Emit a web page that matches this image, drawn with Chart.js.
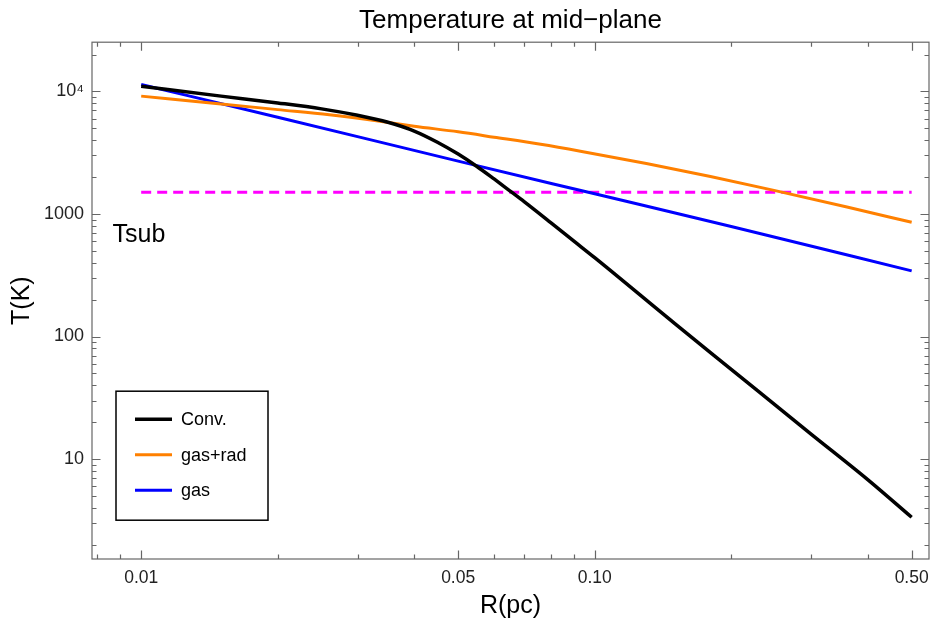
<!DOCTYPE html>
<html>
<head>
<meta charset="utf-8">
<title>Temperature at mid-plane</title>
<script src="https://cdn.jsdelivr.net/npm/chart.js@4.4.1/dist/chart.umd.min.js"></script>
<style>
  body { margin: 0; background: #fff; }
  canvas { display: block; }
</style>
</head>
<body>
<canvas id="tempChart" width="932" height="629"></canvas>
<script>
// R in pc, T in K
var rConv = [0.01, 0.015, 0.02, 0.025, 0.03, 0.035, 0.04, 0.045, 0.05, 0.055, 0.06, 0.065, 0.07, 0.08, 0.09, 0.1, 0.15, 0.2, 0.3, 0.4, 0.5];
var tConv = [11000, 9150, 8050, 7200, 6380, 5600, 4750, 3850, 3080, 2440, 1930, 1545, 1255, 850, 600, 440, 128, 54, 16, 6.8, 3.35];

var rGasRad = [0.01, 0.015, 0.02, 0.026, 0.0336, 0.04, 0.05, 0.06, 0.076, 0.093, 0.13, 0.18, 0.25, 0.36, 0.5];
var tGasRad = [9150, 7900, 7100, 6440, 5710, 5200, 4680, 4230, 3700, 3250, 2580, 2020, 1550, 1140, 855];

var rGas = [0.01, 0.02, 0.05, 0.1, 0.2, 0.5];
var tGas = [11400, 6150, 2700, 1460, 790, 343];

var rSub = [0.01, 0.5];
var tSub = [1500, 1500];

var seriesLabels = ["Conv.", "gas+rad", "gas"];

// tick marks and labels
var xTicks = [0.008, 0.009, 0.01, 0.02, 0.03, 0.04, 0.05, 0.06, 0.07, 0.08, 0.09, 0.1, 0.2, 0.3, 0.4, 0.5];
var xMajor = [0.01, 0.05, 0.1, 0.5];
var xMajorText = ["0.01", "0.05", "0.10", "0.50"];
var yTicks = [2, 3, 4, 5, 6, 7, 8, 9, 10, 20, 30, 40, 50, 60, 70, 80, 90, 100, 200, 300, 400, 500, 600, 700, 800, 900,
              1000, 2000, 3000, 4000, 5000, 6000, 7000, 8000, 9000, 10000, 20000];
var yMajor = [10, 100, 1000, 10000];
var yMajorText = ["10", "100", "1000", "10\u2074"];

var FONT = "'Liberation Sans', Arial, sans-serif";

function pts(xs, ys) {
  return xs.map(function (x, i) { return { x: x, y: ys[i] }; });
}

// inward ticks on all four sides + frame
var frameTicks = {
  id: "frameTicks",
  afterDraw: function (chart) {
    var c = chart.ctx, a = chart.chartArea;
    var xs = chart.scales.x, ys = chart.scales.y;
    c.save();
    c.strokeStyle = "#666";
    c.lineWidth = 1.2;
    c.beginPath();
    xs.ticks.forEach(function (t) {
      var px = Math.round(xs.getPixelForValue(t.value)) + 0.5;
      var len = xMajor.indexOf(t.value) >= 0 ? 8.5 : 4.5;
      c.moveTo(px, a.bottom); c.lineTo(px, a.bottom - len);
      c.moveTo(px, a.top); c.lineTo(px, a.top + len);
    });
    ys.ticks.forEach(function (t) {
      var py = Math.round(ys.getPixelForValue(t.value)) + 0.5;
      var len = yMajor.indexOf(t.value) >= 0 ? 8.5 : 4.5;
      c.moveTo(a.left, py); c.lineTo(a.left + len, py);
      c.moveTo(a.right, py); c.lineTo(a.right - len, py);
    });
    c.stroke();
    c.strokeRect(a.left, a.top, a.right - a.left, a.bottom - a.top);
    c.restore();
  }
};

// legend box inside the plot + Tsub label
var insideLegend = {
  id: "insideLegend",
  afterDatasetsDraw: function (chart) {
    var c = chart.ctx, a = chart.chartArea;
    var xs = chart.scales.x, ys = chart.scales.y;
    c.save();
    c.font = "25px " + FONT;
    c.fillStyle = "#000";
    c.textBaseline = "alphabetic";
    c.fillText("Tsub", xs.getPixelForValue(0.00865), ys.getPixelForValue(590));

    var left = a.left + 24, top = a.top + 349, w = 152, h = 129;
    c.fillStyle = "#fff";
    c.fillRect(left, top, w, h);
    c.strokeStyle = "#000";
    c.lineWidth = 1.5;
    c.strokeRect(left, top, w, h);
    c.font = "18px " + FONT;
    c.textBaseline = "middle";
    for (var i = 0; i < seriesLabels.length; i++) {
      var ds = chart.data.datasets[i];
      var y = top + 28 + i * 35.5;
      c.strokeStyle = ds.borderColor;
      c.lineWidth = ds.borderWidth;
      c.beginPath();
      c.moveTo(left + 19, y);
      c.lineTo(left + 56, y);
      c.stroke();
      c.fillStyle = "#000";
      c.fillText(ds.label, left + 65, y + 1);
    }
    c.restore();
  }
};

var ctx = document.getElementById("tempChart");
var chart = new Chart(ctx, {
  type: "scatter",
  data: {
    datasets: [
      { label: seriesLabels[0], data: pts(rConv, tConv), borderColor: "#000000", borderWidth: 3.5 },
      { label: seriesLabels[1], data: pts(rGasRad, tGasRad), borderColor: "#ff8000", borderWidth: 3 },
      { label: seriesLabels[2], data: pts(rGas, tGas), borderColor: "#0000ff", borderWidth: 3 },
      { label: "Tsub", data: pts(rSub, tSub), borderColor: "#ff00ff", borderWidth: 3, borderDash: [10, 6] }
    ]
  },
  options: {
    responsive: false,
    animation: false,
    devicePixelRatio: 1,
    showLine: true,
    elements: {
      point: { radius: 0, hoverRadius: 0 },
      line: { cubicInterpolationMode: "monotone", fill: false }
    },
    layout: { padding: { left: 0, right: 3, top: 0, bottom: 0 } },
    plugins: {
      legend: { display: false },
      tooltip: { enabled: false },
      title: {
        display: true,
        fullSize: false,
        text: "Temperature at mid\u2212plane",
        color: "#000",
        font: { family: FONT, size: 26, weight: "normal" },
        padding: { top: 5, bottom: 6 }
      }
    },
    scales: {
      x: {
        type: "logarithmic",
        min: 0.00779,
        max: 0.546,
        grid: { display: false, drawTicks: false },
        border: { display: false },
        afterBuildTicks: function (s) { s.ticks = xTicks.map(function (v) { return { value: v }; }); },
        afterFit: function (s) { s.height = 70; s.paddingLeft = 0; s.paddingRight = 0; },
        ticks: {
          autoSkip: false,
          maxRotation: 0,
          padding: 9,
          color: "#222",
          font: { family: FONT, size: 17.5 },
          callback: function (v) { var i = xMajor.indexOf(v); return i < 0 ? "" : xMajorText[i]; }
        },
        title: {
          display: true,
          text: "R(pc)",
          color: "#000",
          font: { family: FONT, size: 25 },
          padding: { top: 0, bottom: 8 }
        }
      },
      y: {
        type: "logarithmic",
        min: 1.53,
        max: 25200,
        grid: { display: false, drawTicks: false },
        border: { display: false },
        afterBuildTicks: function (s) { s.ticks = yTicks.map(function (v) { return { value: v }; }); },
        afterFit: function (s) { s.width = 92; },
        ticks: {
          autoSkip: false,
          padding: 8,
          color: "#222",
          font: { family: FONT, size: 18 },
          callback: function (v) { var i = yMajor.indexOf(v); return i < 0 ? "" : yMajorText[i]; }
        },
        title: {
          display: true,
          text: "T(K)",
          color: "#000",
          font: { family: FONT, size: 25 },
          padding: { top: 7, bottom: 0 }
        }
      }
    }
  },
  plugins: [frameTicks, insideLegend]
});
</script>
</body>
</html>
